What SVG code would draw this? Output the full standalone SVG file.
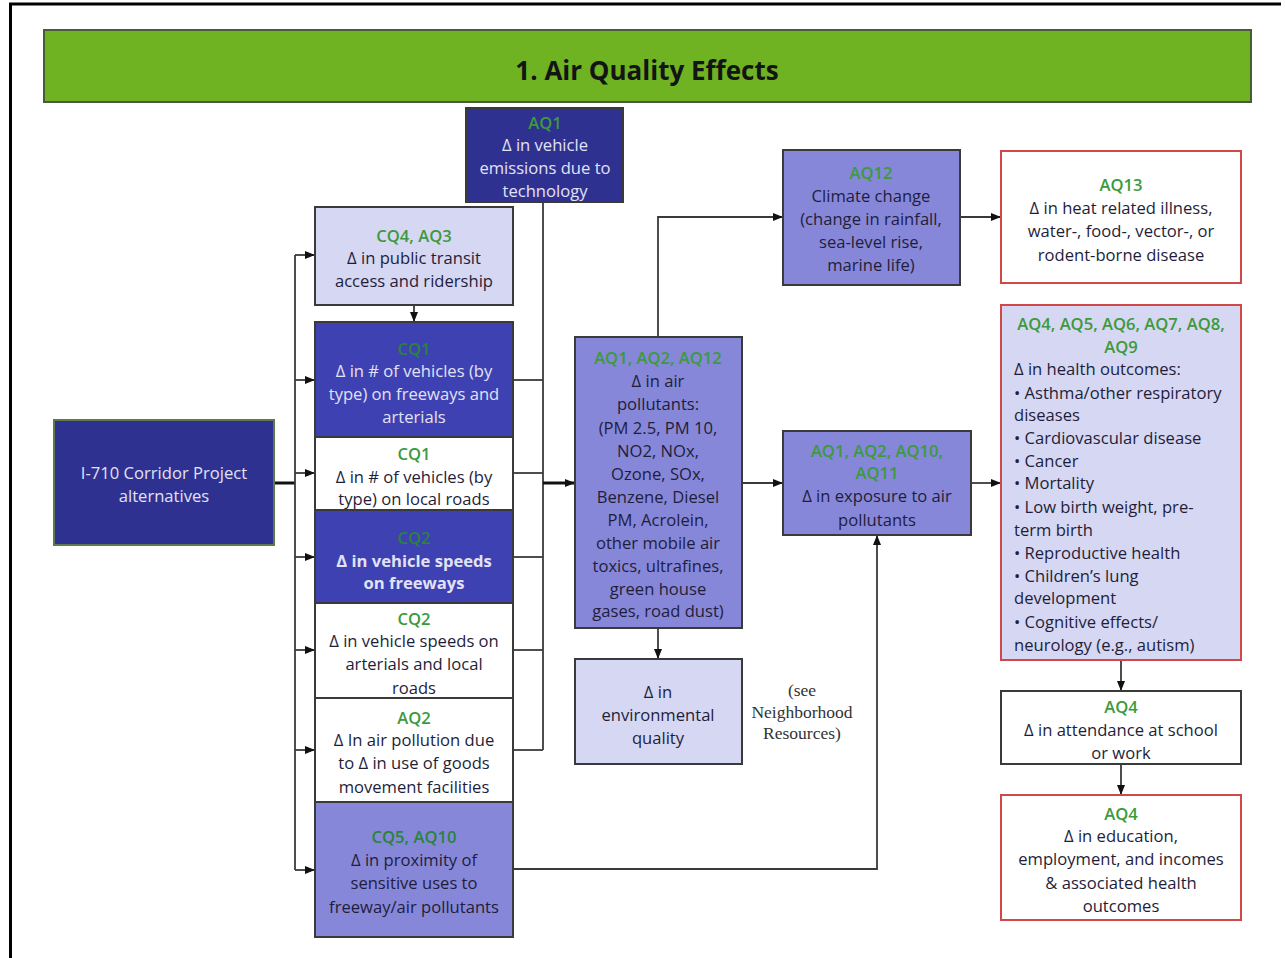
<svg xmlns="http://www.w3.org/2000/svg" width="1285" height="958" viewBox="0 0 1285 958">
<style>
.box{stroke:#3a3a3a;stroke-width:2}
.red{stroke:#d04848;stroke-width:2}
.navy{fill:#2f3190}
.blue{fill:#3e41b1}
.med{fill:#8787d9}
.light{fill:#d6d7f2}
.white{fill:#ffffff}
text{font-family:"Open Sans","Liberation Sans",sans-serif;font-size:16.6px;text-anchor:middle;fill:#1e1e3a}
.g{fill:#3c9a3c;font-weight:600}
.dg{fill:#2a833c;font-weight:600}
.w{fill:#e2e2f6}
.b{font-weight:700}
.l{text-anchor:start}
.serif{font-family:"Liberation Serif",serif;font-size:17.5px;fill:#333}
.c{fill:none;stroke:#3a3a3a;stroke-width:1.8}
.k{fill:none;stroke:#111;stroke-width:3}
</style>
<defs>
<marker id="a" markerUnits="userSpaceOnUse" markerWidth="10" markerHeight="10" viewBox="0 0 10 10" refX="10" refY="5" orient="auto">
<path d="M0,1 L10,5 L0,9 Z" fill="#111"/>
</marker>
</defs>
<rect width="1285" height="958" fill="#fff"/>
<path d="M10.5,958 V4 H1281" fill="none" stroke="#000" stroke-width="3"/>
<g id="title">
<rect x="44" y="30" width="1207" height="72" fill="#6fb323" stroke="#4a5a3a" stroke-width="2"/>
<text x="647" y="80" style="font-size:26px;font-weight:700;fill:#141414">1. Air Quality Effects</text>
</g>
<g id="connectors">
<path class="k" d="M274,483 H295"/>
<path class="c" d="M295,255 V870"/>
<path class="c" d="M295,255 H315" marker-end="url(#a)"/>
<path class="c" d="M295,380 H315" marker-end="url(#a)"/>
<path class="c" d="M295,473 H315" marker-end="url(#a)"/>
<path class="c" d="M295,557 H315" marker-end="url(#a)"/>
<path class="c" d="M295,650 H315" marker-end="url(#a)"/>
<path class="c" d="M295,750 H315" marker-end="url(#a)"/>
<path class="c" d="M295,870 H315" marker-end="url(#a)"/>
<path class="c" d="M414,305 V322" marker-end="url(#a)"/>
<path class="c" d="M543,202 V750"/>
<path class="c" d="M513,380 H543"/>
<path class="c" d="M513,473 H543"/>
<path class="c" d="M513,557 H543"/>
<path class="c" d="M513,650 H543"/>
<path class="c" d="M513,750 H543"/>
<path class="k" d="M543,483 H575" marker-end="url(#a)"/>
<path class="c" d="M658,337 V217 H783" marker-end="url(#a)"/>
<path class="c" d="M960,217 H1001" marker-end="url(#a)"/>
<path class="c" d="M742,483 H783" marker-end="url(#a)"/>
<path class="c" d="M971,483 H1001" marker-end="url(#a)"/>
<path class="c" d="M658,628 V659" marker-end="url(#a)"/>
<path class="c" d="M1121,661 V691" marker-end="url(#a)"/>
<path class="c" d="M1121,764 V795" marker-end="url(#a)"/>
<path class="c" d="M513,869 H877 V535" marker-end="url(#a)"/>
</g>
<g id="i710">
<rect x="54" y="420" width="220" height="125" class="navy" stroke="#5e7a48" stroke-width="2"/>
<text class="w" x="164" y="479">I-710 Corridor Project</text>
<text class="w" x="164" y="502">alternatives</text>
</g>
<g id="aq1-tech">
<rect x="466" y="108" width="157" height="94" class="navy box"/>
<text class="g" x="545" y="129">AQ1</text>
<text class="w" x="545" y="151">Δ in vehicle</text>
<text class="w" x="545" y="174">emissions due to</text>
<text class="w" x="545" y="197">technology</text>
</g>
<g id="cq4-aq3">
<rect x="315" y="207" width="198" height="98" class="light box"/>
<text class="g" x="414" y="242">CQ4, AQ3</text>
<text x="414" y="264">Δ in public transit</text>
<text x="414" y="287">access and ridership</text>
</g>
<g id="cq1-freeways">
<rect x="315" y="322" width="198" height="115" class="blue box"/>
<text class="dg" x="414" y="355">CQ1</text>
<text class="w" x="414" y="377">Δ in # of vehicles (by</text>
<text class="w" x="414" y="400">type) on freeways and</text>
<text class="w" x="414" y="423">arterials</text>
</g>
<g id="cq1-local">
<rect x="315" y="437" width="198" height="73" class="white box"/>
<text class="g" x="414" y="460">CQ1</text>
<text x="414" y="483">Δ in # of vehicles (by</text>
<text x="414" y="505">type) on local roads</text>
</g>
<g id="cq2-freeways">
<rect x="315" y="510" width="198" height="93" class="blue box"/>
<text class="dg" x="414" y="544">CQ2</text>
<text class="w b" x="414" y="567">Δ in vehicle speeds</text>
<text class="w b" x="414" y="589">on freeways</text>
</g>
<g id="cq2-arterials">
<rect x="315" y="603" width="198" height="95" class="white box"/>
<text class="g" x="414" y="625">CQ2</text>
<text x="414" y="647">Δ in vehicle speeds on</text>
<text x="414" y="670">arterials and local</text>
<text x="414" y="694">roads</text>
</g>
<g id="aq2-goods">
<rect x="315" y="698" width="198" height="104" class="white box"/>
<text class="g" x="414" y="724">AQ2</text>
<text x="414" y="746">Δ In air pollution due</text>
<text x="414" y="769">to Δ in use of goods</text>
<text x="414" y="793">movement facilities</text>
</g>
<g id="cq5-aq10">
<rect x="315" y="802" width="198" height="135" class="med box"/>
<text class="dg" x="414" y="843">CQ5, AQ10</text>
<text x="414" y="866">Δ in proximity of</text>
<text x="414" y="889">sensitive uses to</text>
<text x="414" y="913">freeway/air pollutants</text>
</g>
<g id="pollutants">
<rect x="575" y="337" width="167" height="291" class="med box"/>
<text class="g" x="658" y="364">AQ1, AQ2, AQ12</text>
<text x="658" y="387">Δ in air</text>
<text x="658" y="410">pollutants:</text>
<text x="658" y="434">(PM 2.5, PM 10,</text>
<text x="658" y="457">NO2,  NOx,</text>
<text x="658" y="480">Ozone, SOx,</text>
<text x="658" y="503">Benzene, Diesel</text>
<text x="658" y="526">PM, Acrolein,</text>
<text x="658" y="549">other mobile air</text>
<text x="658" y="572">toxics, ultrafines,</text>
<text x="658" y="595">green house</text>
<text x="658" y="617">gases, road dust)</text>
</g>
<g id="env-quality">
<rect x="575" y="659" width="167" height="105" class="light box"/>
<text x="658" y="698">Δ in</text>
<text x="658" y="721">environmental</text>
<text x="658" y="744">quality</text>
</g>
<g id="see-note">
<text class="serif" x="802" y="696">(see</text>
<text class="serif" x="802" y="718">Neighborhood</text>
<text class="serif" x="802" y="739">Resources)</text>
</g>
<g id="aq12">
<rect x="783" y="150" width="177" height="135" class="med box"/>
<text class="g" x="871" y="179">AQ12</text>
<text x="871" y="202">Climate change</text>
<text x="871" y="225">(change in rainfall,</text>
<text x="871" y="248">sea-level rise,</text>
<text x="871" y="271">marine life)</text>
</g>
<g id="exposure">
<rect x="783" y="431" width="188" height="104" class="med box"/>
<text class="g" x="877" y="457">AQ1, AQ2, AQ10,</text>
<text class="g" x="877" y="479">AQ11</text>
<text x="877" y="502">Δ in exposure to air</text>
<text x="877" y="526">pollutants</text>
</g>
<g id="aq13">
<rect x="1001" y="151" width="240" height="132" class="white red"/>
<text class="g" x="1121" y="191">AQ13</text>
<text x="1121" y="214">Δ in heat related illness,</text>
<text x="1121" y="237">water-, food-, vector-, or</text>
<text x="1121" y="261">rodent-borne disease</text>
</g>
<g id="health">
<rect x="1001" y="305" width="240" height="355" class="light red"/>
<text class="g" x="1121" y="330">AQ4, AQ5, AQ6, AQ7, AQ8,</text>
<text class="g" x="1121" y="353">AQ9</text>
<text class="l" x="1014" y="375">Δ in health outcomes:</text>
<text class="l" x="1014" y="399">• Asthma/other respiratory</text>
<text class="l" x="1014" y="421">diseases</text>
<text class="l" x="1014" y="444">• Cardiovascular disease</text>
<text class="l" x="1014" y="467">• Cancer</text>
<text class="l" x="1014" y="489">• Mortality</text>
<text class="l" x="1014" y="513">• Low birth weight, pre-</text>
<text class="l" x="1014" y="536">term birth</text>
<text class="l" x="1014" y="559">• Reproductive health</text>
<text class="l" x="1014" y="582">• Children’s lung</text>
<text class="l" x="1014" y="604">development</text>
<text class="l" x="1014" y="628">• Cognitive effects/</text>
<text class="l" x="1014" y="651">neurology (e.g., autism)</text>
</g>
<g id="attendance">
<rect x="1001" y="691" width="240" height="73" class="white box"/>
<text class="g" x="1121" y="713">AQ4</text>
<text x="1121" y="736">Δ in attendance at school</text>
<text x="1121" y="759">or work</text>
</g>
<g id="education">
<rect x="1001" y="795" width="240" height="125" class="white red"/>
<text class="g" x="1121" y="820">AQ4</text>
<text x="1121" y="842">Δ in education,</text>
<text x="1121" y="865">employment, and incomes</text>
<text x="1121" y="889">&amp; associated health</text>
<text x="1121" y="912">outcomes</text>
</g>
</svg>
